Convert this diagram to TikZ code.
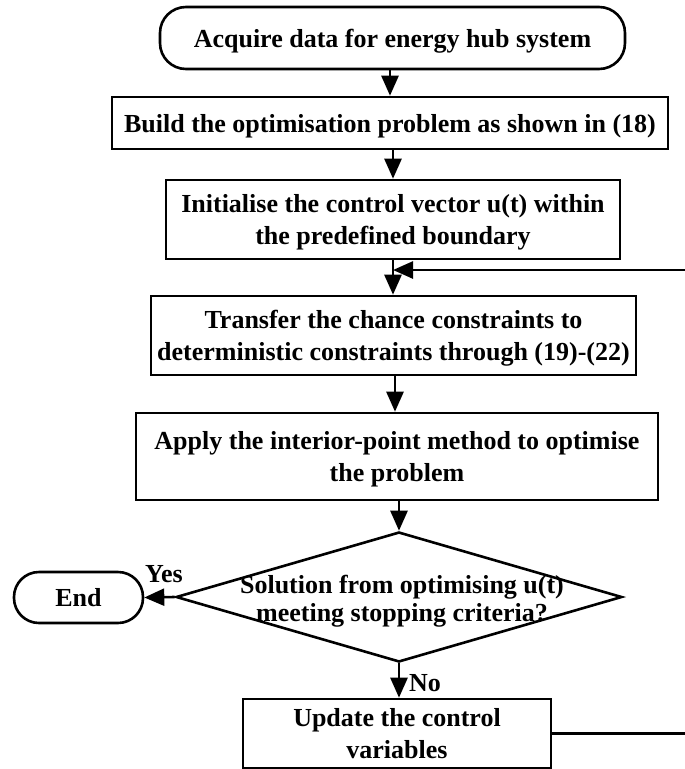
\documentclass[tikz,border=0pt]{standalone}
\usepackage{fontspec}
\setmainfont{Liberation Serif}
\usetikzlibrary{arrows.meta,shapes.geometric,calc}
\begin{document}
\begin{tikzpicture}[x=1pt,y=-1pt,
  every node/.style={font=\fontsize{26}{32}\selectfont\bfseries, align=center, inner sep=0pt},
  procbox/.style={draw, line width=2.6pt, rectangle, text depth=0pt},
  termbox/.style={draw, line width=2.6pt, rectangle, rounded corners=26pt, text depth=0pt},
  decbox/.style={draw, line width=2.6pt, diamond, minimum width=446pt, minimum height=130pt},
  arr/.style={line width=2.6pt, -{Triangle[length=20pt,width=17pt]}},
  lbl/.style={font=\fontsize{26}{28}\selectfont\bfseries}]
\useasboundingbox (0,0) rectangle (685,769);
\clip (0,0) rectangle (685,769);
\node[termbox, minimum width=465pt, minimum height=62pt] (start) at (392.5,38) {Acquire data for energy hub system};
\node[procbox, minimum width=556pt, minimum height=52pt] (build) at (390,123) {Build the optimisation problem as shown in (18)};
\node[procbox, minimum width=454pt, minimum height=79pt] (init) at (393,219.5) {Initialise the control vector u(t) within\\the predefined boundary};
\node[procbox, minimum width=485pt, minimum height=79pt] (transfer) at (393.5,335.5) {Transfer the chance constraints to\\deterministic constraints through (19)-(22)};
\node[procbox, minimum width=522pt, minimum height=87pt] (apply) at (397,456.5) {Apply the interior-point method to optimise\\the problem};
\node[decbox] (dec) at (399,597) {};
\node[font=\fontsize{26}{28}\selectfont\bfseries] (dectext) at (402,601) {Solution from optimising u(t)\\meeting stopping criteria?};
\node[termbox, minimum width=129pt, minimum height=51pt, rounded corners=25pt] (end) at (78.5,597.5) {End};
\node[procbox, minimum width=308pt, minimum height=69pt] (update) at (397,733.5) {Update the control\\variables};
\node[lbl] (yes) at (164,574) {Yes};
\node[lbl] (no) at (425,683) {No};
\coordinate (join) at (393,270);
\coordinate (rightside) at (692,0);
\draw[arr] (start.south -| build.north) -- (build.north);
\draw[arr] (init.north |- build.south) -- (init.north);
\draw[line width=2.6pt] (init.south) -- (join);
\draw[arr] (join) -- (transfer.north -| join);
\draw[arr] (transfer.south -| 395,0) -- (apply.north -| 395,0);
\draw[arr] (apply.south -| dec.north) -- (dec.north);
\draw[arr] (dec.south) -- (dec.south |- update.north);
\draw[arr] (dec.west) -- (end.east);
\draw[arr] (update.east) -- (update.east -| rightside) |- (join);
\end{tikzpicture}
\end{document}
